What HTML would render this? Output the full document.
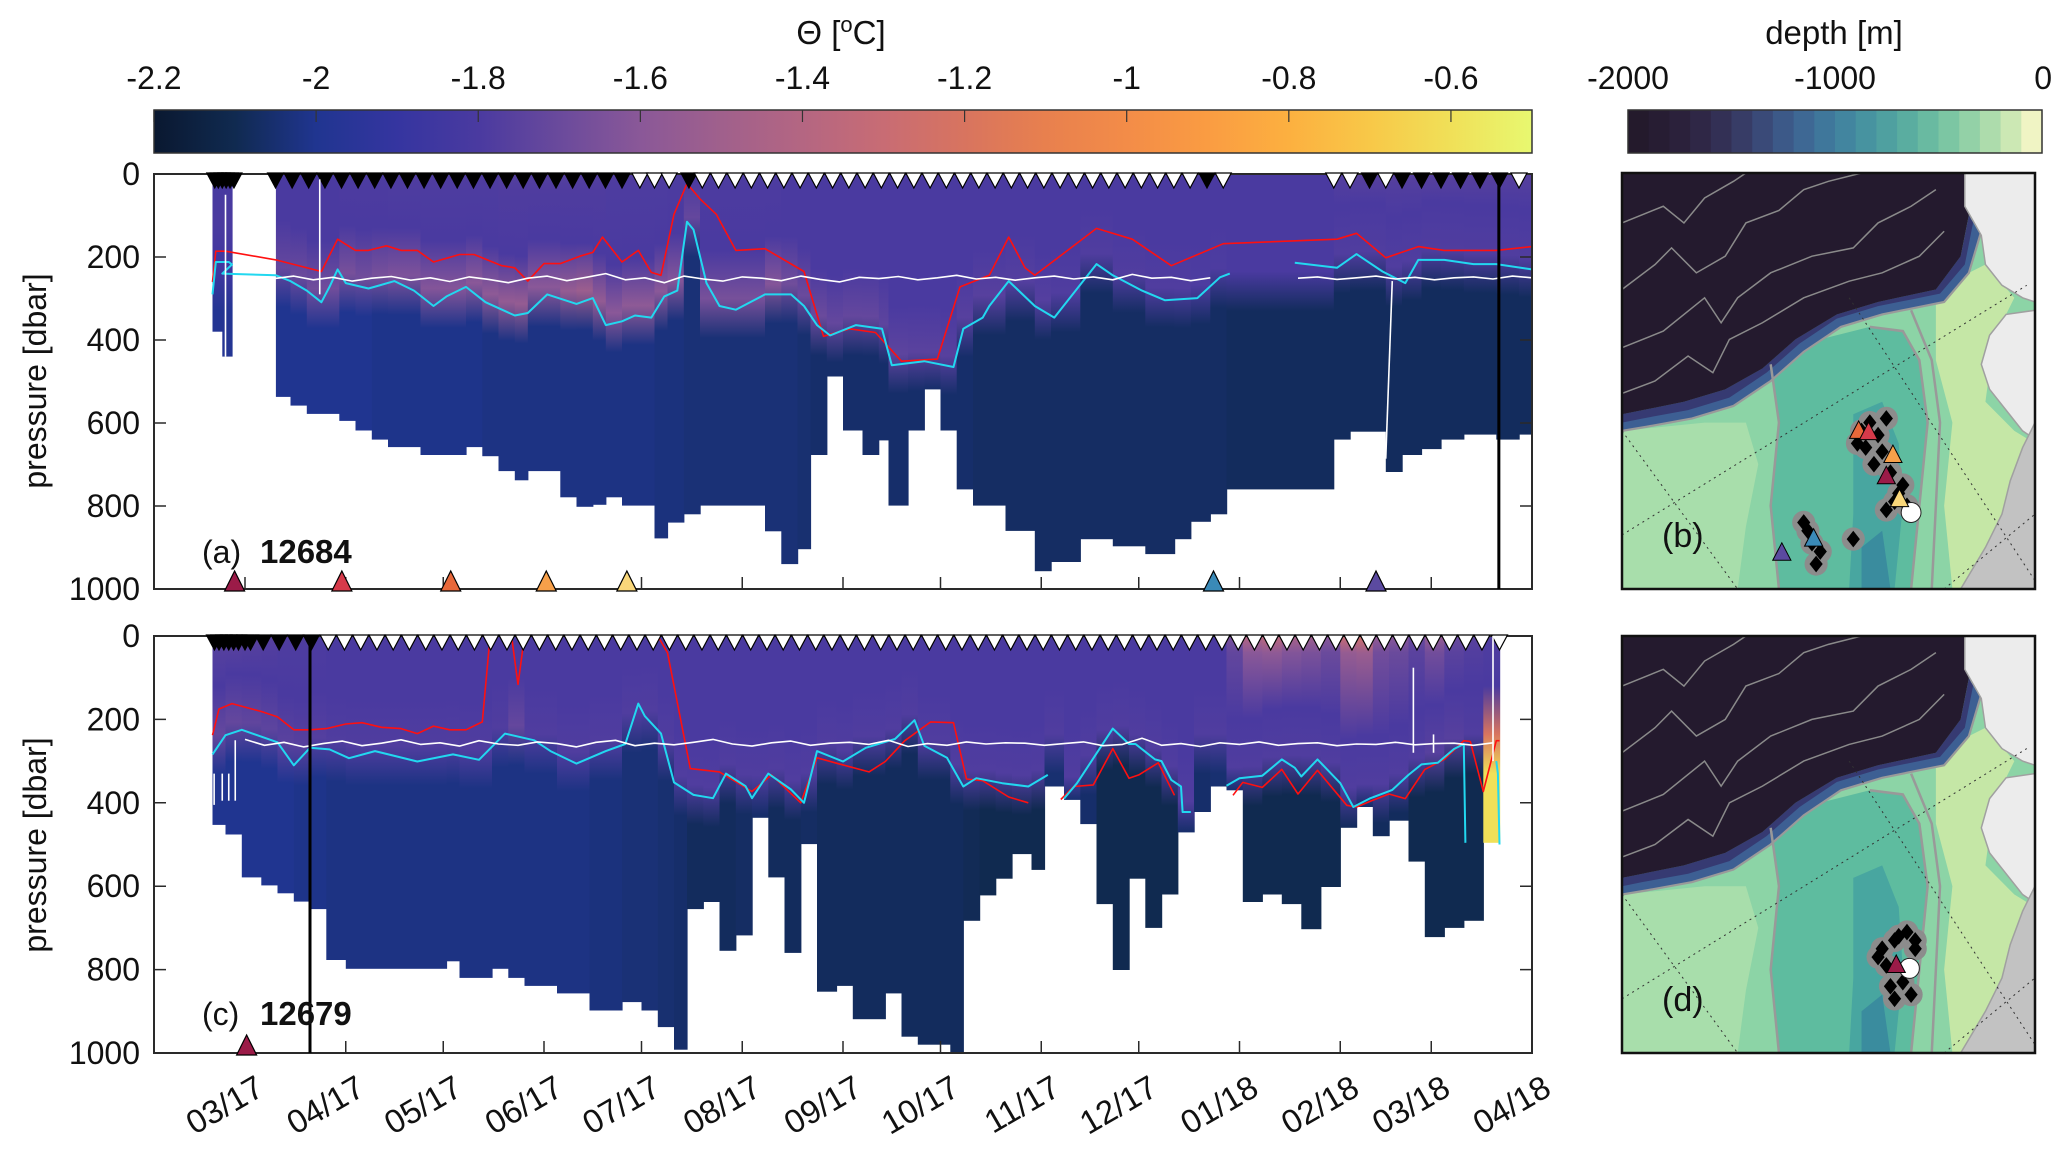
<!DOCTYPE html>
<html><head><meta charset="utf-8">
<style>
body{margin:0;background:#fff;}
svg{display:block;font-family:"Liberation Sans",Arial,sans-serif;}
</style></head>
<body>
<svg id="fig" xmlns="http://www.w3.org/2000/svg" width="2067" height="1151" viewBox="0 0 2067 1151">
<defs id="defs"></defs>
<rect x="0" y="0" width="2067" height="1151" fill="#fff"/>
<text x="841" y="44" font-size="33" text-anchor="middle" fill="#111">Θ [<tspan font-size="22" dy="-12">o</tspan><tspan dy="12">C]</tspan></text>
<text x="1834" y="44" font-size="33" text-anchor="middle" fill="#111">depth [m]</text>
<text transform="translate(46,381) rotate(-90)" font-size="32" text-anchor="middle" fill="#111">pressure [dbar]</text>
<text transform="translate(46,845) rotate(-90)" font-size="32" text-anchor="middle" fill="#111">pressure [dbar]</text>
<g id="cbar"></g>
<g id="dbar"></g>
<g id="panelA"></g>
<g id="panelC"></g>
<g id="maps"></g>
</svg>
<script>
// ---------- data ----------
const cmapV=[-2.2,-2.1,-2.0,-1.9,-1.8,-1.7,-1.6,-1.5,-1.4,-1.3,-1.2,-1.1,-1.0,-0.9,-0.8,-0.7,-0.6,-0.5];
const cmapC=['#0a1830','#102a50','#203590','#3535a0','#4a3aa0','#6a4a9c','#8a5898','#a0608c','#b46682','#c86c74','#d8745f','#e8804e','#f38c48','#fa9c42','#fcb040','#f8c848','#f0e058','#e8f870'];
const thetaTicks=[-2.2,-2,-1.8,-1.6,-1.4,-1.2,-1,-0.8,-0.6];
const thetaTickLabels=['-2.2','-2','-1.8','-1.6','-1.4','-1.2','-1','-0.8','-0.6'];
const depthColors=['#241a2c','#271d33','#2b213b','#2f2746','#333055','#373c66','#3a4a78','#3c5988','#3e6894','#3f779b','#42859f','#4793a0','#4fa0a0','#5aada0','#69baa1','#7cc6a3','#93d1a7','#addcac','#cce8b4','#f0f4c4'];
const depthTicks=[-2000,-1000,0];
const depthTickLabels=['-2000','-1000','0'];
const pTicks=[0,200,400,600,800,1000];
const pTickLabels=['0','200','400','600','800','1000'];
const monthDays=[28,59,89,120,150,181,212,242,273,303,334,365,393,424];
const monthLabels=['03/17','04/17','05/17','06/17','07/17','08/17','09/17','10/17','11/17','12/17','01/18','02/18','03/18','04/18'];

// panel (a) columns
const colStartA=[18,21,37.5,42,47,57,62,67,72,82,96,101,106,111,115,125,130,135,139,144,154,158,163,168,188,193,198,202,207,212,218,223,226,232,237,242,247,252,262,271,276,285,295,305,314,319,325,330,363,368,379,384,390,396,403,413,420];
const colEndA=[21,24,42,47,57,62,67,72,82,96,101,106,111,115,125,130,135,139,144,154,158,163,168,188,193,198,202,207,212,218,223,226,232,237,242,247,252,262,271,276,285,295,305,314,319,325,330,363,368,379,384,390,396,403,413,420,424];
const bottomA=[380,440,537,558,578,595,618,640,658,677,658,680,716,738,716,779,802,797,779,799,878,840,820,799,861,940,904,677,488,618,677,642,799,618,519,618,760,799,860,957,935,880,897,916,880,838,820,760,640,621,718,677,663,640,628,640,628];
const tUpA=[-1.82,-1.82,-1.8,-1.8,-1.8,-1.79,-1.79,-1.79,-1.78,-1.78,-1.78,-1.78,-1.77,-1.77,-1.77,-1.77,-1.77,-1.77,-1.78,-1.78,-1.78,-1.79,-1.79,-1.79,-1.79,-1.8,-1.8,-1.8,-1.8,-1.8,-1.8,-1.8,-1.8,-1.8,-1.8,-1.8,-1.8,-1.8,-1.8,-1.8,-1.8,-1.8,-1.8,-1.8,-1.8,-1.8,-1.8,-1.8,-1.77,-1.76,-1.76,-1.76,-1.76,-1.76,-1.76,-1.76,-1.76];
const tMidA=[-1.85,-1.85,-1.72,-1.7,-1.68,-1.66,-1.68,-1.66,-1.64,-1.62,-1.6,-1.58,-1.56,-1.55,-1.6,-1.55,-1.52,-1.56,-1.6,-1.58,-1.6,-1.62,-1.72,-1.66,-1.62,-1.68,-1.7,-1.7,-1.72,-1.72,-1.72,-1.74,-1.74,-1.75,-1.75,-1.76,-1.76,-1.76,-1.77,-1.77,-1.78,-1.78,-1.78,-1.78,-1.78,-1.79,-1.79,-1.8,-1.78,-1.78,-1.78,-1.78,-1.78,-1.78,-1.78,-1.78,-1.78];
const tDeepA=[-1.98,-1.98,-2.0,-2.0,-2.0,-2.0,-2.0,-2.01,-2.01,-2.01,-2.01,-2.02,-2.02,-2.02,-2.02,-2.02,-2.02,-2.02,-2.02,-2.02,-2.03,-2.03,-2.04,-2.04,-2.04,-2.04,-2.05,-2.06,-2.06,-2.06,-2.06,-2.06,-2.06,-2.06,-2.06,-2.06,-2.06,-2.07,-2.07,-2.07,-2.07,-2.07,-2.07,-2.07,-2.07,-2.07,-2.07,-2.08,-2.08,-2.08,-2.08,-2.08,-2.08,-2.08,-2.08,-2.08,-2.08];

// panel (c) columns
const colStartC=[18,22,27,33,38,43,48,53,59,90,94,104,109,114,124,134,144,150,155,160,164,169,174,179,184,189,194,199,204,210,215,225,230,235,245,249,254,259,264,270,274,280,285,290,295,300,305,310,315,320,325,330,335,341,347,353,359,365,370,375,380,386,391,397,403,409];
const colEndC=[22,27,33,38,43,48,53,59,90,94,104,109,114,124,134,144,150,155,160,164,169,174,179,184,189,194,199,204,210,215,225,230,235,245,249,254,259,264,270,274,280,285,290,295,300,305,310,315,320,325,330,335,341,347,353,359,365,370,375,380,386,391,397,403,409,414];
const bottomC=[453,476,579,598,617,637,655,777,798,780,820,798,820,839,857,898,878,898,938,992,655,638,755,718,436,579,760,499,853,839,919,857,961,980,999,683,622,582,523,561,361,393,451,643,801,582,700,620,471,422,361,370,638,620,643,703,602,460,410,480,443,541,722,700,683,496];
const tUpC=[-1.74,-1.74,-1.75,-1.76,-1.78,-1.78,-1.79,-1.8,-1.8,-1.8,-1.8,-1.8,-1.8,-1.8,-1.8,-1.8,-1.8,-1.8,-1.8,-1.8,-1.8,-1.8,-1.8,-1.8,-1.8,-1.8,-1.8,-1.8,-1.8,-1.8,-1.8,-1.8,-1.8,-1.8,-1.8,-1.8,-1.8,-1.8,-1.8,-1.8,-1.8,-1.8,-1.8,-1.8,-1.8,-1.8,-1.8,-1.8,-1.8,-1.8,-1.8,-1.65,-1.4,-1.35,-1.45,-1.5,-1.6,-1.3,-1.25,-1.55,-1.6,-1.7,-1.55,-1.7,-1.75,-1.78];
const tMidC=[-1.72,-1.72,-1.73,-1.74,-1.75,-1.76,-1.77,-1.78,-1.78,-1.78,-1.78,-1.78,-1.72,-1.78,-1.78,-1.78,-1.78,-1.78,-1.78,-1.78,-1.78,-1.78,-1.78,-1.78,-1.78,-1.78,-1.78,-1.78,-1.78,-1.78,-1.78,-1.78,-1.78,-1.78,-1.78,-1.78,-1.78,-1.78,-1.78,-1.78,-1.78,-1.78,-1.78,-1.78,-1.78,-1.78,-1.78,-1.78,-1.78,-1.78,-1.78,-1.78,-1.78,-1.78,-1.78,-1.78,-1.78,-1.78,-1.78,-1.78,-1.78,-1.78,-1.76,-1.76,-1.78,-1.2];
const tDeepC=[-2.0,-2.0,-2.0,-2.0,-2.0,-2.01,-2.01,-2.02,-2.02,-2.02,-2.02,-2.02,-2.02,-2.02,-2.02,-2.03,-2.04,-2.04,-2.05,-2.06,-2.08,-2.08,-2.08,-2.07,-2.06,-2.08,-2.08,-2.07,-2.08,-2.08,-2.08,-2.08,-2.08,-2.08,-2.08,-2.09,-2.1,-2.1,-2.1,-2.1,-2.05,-2.05,-2.06,-2.1,-2.1,-2.1,-2.1,-2.1,-2.06,-2.06,-2.05,-2.05,-2.1,-2.1,-2.1,-2.1,-2.1,-2.08,-2.06,-2.08,-2.08,-2.1,-2.1,-2.1,-2.1,-0.6];

// lines panel (a)
const redA_d=[18,19,22,37.5,51.5,56.5,62,66,71.5,76,81,86,94,98.5,107,111,115,120,125,131,135,138,144,149,153,156,160,164,168,173,179,188,200,206,214,222,230,241,248,257,263,268,271,290,301,313,329,364,370,379,389,397,413,424];
const redA_p=[260,186,186,207,235,157,184,184,173,184,184,212,194,194,221,226,258,216,216,198,189,152,212,184,237,244,97,23,60,97,184,180,235,391,373,382,451,446,272,244,152,226,244,131,157,221,168,157,143,202,175,184,184,175];
const cyanA_d=[18,19,23,24,21,37.5,42,47,51.5,54,56.5,59,66,74,80,86,90,96,102,111,115,121,130,135,139,144,148,153,157,161,164,166,170,174,179,188,196,200,204,208,216,224,227,237,246,249,255,257,263,271,277,290,295,304,311,321,328,331];
const cyanA_p=[290,212,212,218,240,244,258,281,309,272,230,263,276,258,281,318,295,272,309,341,335,290,313,299,364,355,341,346,295,281,115,134,263,318,327,290,290,318,364,389,364,373,461,451,465,373,346,318,258,318,346,217,244,281,304,299,249,240];
const cyanA2_d=[351,364,370,378,385,389,397,406,413,424];
const cyanA2_p=[214,226,193,235,263,207,207,217,217,230];
const whiteA_d=[37,43,49,55,61,67,73,79,85,91,97,103,109,115,121,127,133,139,145,151,157,163,169,175,181,187,193,199,205,211,217,223,229,235,241,247,253,259,265,271,277,283,289,295,301,307,313,319,325];
const whiteA_p=[252,246,255,249,258,251,247,256,250,259,248,254,262,251,246,257,249,240,255,250,262,246,253,258,248,251,257,246,254,260,249,252,247,255,250,244,253,249,256,250,246,253,248,255,242,251,249,257,250];
const whiteA2_d=[352,358,364,370,376,382,388,394,400,406,412,418,424];
const whiteA2_p=[251,248,254,250,246,253,249,255,250,248,253,246,250];
const whiteSegA_d1=[22,51,381], whiteSegA_p1=[50,13,258], whiteSegA_d2=[22,51,379], whiteSegA_p2=[440,290,686];

// lines panel (c)
const redC1_d=[18,20,24,33,38,43,48,53,59,64,70,76,81,86,91,96,101,103,103.5];
const redC1_p=[238,175,162,181,194,225,225,222,211,208,219,222,234,216,225,225,206,35,0];
const redC2_d=[110,112,114], redC2_p=[0,116,0];
const redC3_d=[155,158,165,174,184,190,199,204,210,220,225,231,239,246,250,255,263,269];
const redC3_p=[0,40,318,326,373,333,400,292,305,326,301,251,206,208,343,347,386,400];
const redC4_d=[279,283,289,295,300,303,309,314], redC4_p=[392,361,357,270,341,333,304,382];
const redC5_d=[332,335,341,347,352,358,367,370,375,380,385,391,397,403,405,409,413,414];
const redC5_p=[382,351,363,320,379,322,406,410,394,379,390,320,296,251,253,373,251,251];
const cyanC1_d=[18,22,27,38,43,48,54,60,68,81,92,100,108,117,122,130,139,145,149,151,156,160,166,172,176,182,184,189,196,200,204,212,219,228,234,237,244,249,253,261,269,275];
const cyanC1_p=[284,238,225,255,310,268,272,293,276,301,284,297,234,250,276,306,276,259,162,192,234,351,381,389,330,360,389,330,368,400,276,301,268,247,202,263,292,361,341,353,361,333];
const cyanC2_d=[280,284,295,300,302,308,310,313,316,316.5,319], cyanC2_p=[390,353,222,259,259,296,300,345,361,422,422];
const cyanC3_d=[330,334,341,347,351,353,358,365,369,374,381,386,390,395,400,403,403.5];
const cyanC3_p=[359,341,335,296,316,337,296,353,410,390,369,333,308,304,271,259,496];
const cyanC4_d=[413,413.5,414], cyanC4_p=[300,330,500];
const whiteC_d=[28,34,40,46,52,58,64,70,76,82,88,94,100,106,112,118,124,130,136,142,148,154,160,166,172,178,184,190,196,202,208,214,220,226,232,238,244,250,256,262,268,274,280,286,292,298,304,310,316,322,328,334,340,346,352,358,364,370,376,382,388,394,400,406,412];
const whiteC_p=[248,262,255,266,258,252,263,257,249,260,256,264,251,259,262,254,258,266,255,250,263,257,261,255,248,259,264,256,252,262,257,255,260,250,265,258,262,254,259,256,257,262,258,254,263,260,245,262,258,265,256,260,254,262,258,256,263,259,260,255,261,258,257,262,256];
const whiteSegC_d=[18.5,21,23,25,387.5,393.7,412], whiteSegC_p1=[330,330,330,250,76,236,0], whiteSegC_p2=[405,395,395,395,280,280,300];

// markers
const topMarkA_d=[18.7,19.8,21,22.2,23.4,24.6,37.4,42.5,47.6,52.6,57.7,62.8,67.9,72.9,78,83.1,88.2,93.3,98.3,103.4,108.5,113.6,118.6,123.7,128.8,133.9,138.9,144,149.5,154,158.5,164.6,168.7,173.7,178.8,183.8,188.8,193.8,198.8,203.8,208.8,213.8,218.8,223.8,228.8,233.8,238.8,243.8,248.8,253.8,258.8,263.8,268.8,273.8,278.8,283.8,288.8,293.8,298.8,303.8,308.8,313.8,318.8,324,329,363,368,374,379,384,390,396,402,408,414,420];
const topMarkA_f=[1,1,1,1,1,1,1,1,1,1,1,1,1,1,1,1,1,1,1,1,1,1,1,1,1,1,1,1,0,0,0,1,0,0,0,0,0,0,0,0,0,0,0,0,0,0,0,0,0,0,0,0,0,0,0,0,0,0,0,0,0,0,0,1,0,0,0,1,0,1,1,1,1,1,1,0];
const topMarkC_d=[18.6,20,21.5,23,24.5,26,28,29.7,33.6,38.5,43.6,48.4,53.6,58.6,63.6,68.6,73.6,78.6,83.6,88.6,93.6,98.6,103.6,108.6,113.6,118.6,123.6,128.6,133.6,138.6,143.6,148.6,153.6,158.6,163.6,168.6,173.6,178.6,183.6,188.6,193.6,198.6,203.6,208.6,213.6,218.6,223.6,228.6,233.6,238.6,243.6,248.6,253.6,258.6,263.6,268.6,273.6,278.6,283.6,288.6,293.6,298.6,303.6,308.6,313.6,318.6,323.6,328.6,333.6,338.6,343.6,348.6,353.6,358.6,363.6,368.6,373.6,378.6,383.6,388.6,393.6,398.6,403.6,408.6,414];
const botMarkA_d=[24.8,57.8,91.3,120.7,145.5,326,376];
const botMarkA_c=['#9b1b48','#d63a4a','#e8683a','#f7a04a','#f9d77a','#3a8ab8','#5b4aa0'];
const botMarkC_d=[28.5];
const botMarkC_c=['#9b1b48'];
const vlineA_d=413.8, vlineC_d=48;

// map markers
const mapB_du=[60,64,57,63,65,68,64,44,46,47,56,58,67,62,59,66,45,48,61,69];
const mapB_dv=[60,59,65,67,72,75,81,84,89,94,88,62,77,63,66,79,86,91,70,80];
const mapB_tu=[57.3,59.7,65.6,64,67.2,46.4,38.7];
const mapB_tv=[62,62.3,67.8,72.9,78.4,87.9,91.3];
const mapB_tc=['#e8683a','#d63a4a','#f7a04a','#9b1b48','#f9d77a','#3a8ab8','#5b4aa0'];
const mapD_du=[66,69,71,63,64,65,68,71,67,62,70,66];
const mapD_dv=[73,71,75,75,79,84,83,73,72,77,86,87];
const mapD_tu=[66.4], mapD_tv=[78.9], mapD_tc=['#9b1b48'];
const mapB_circ=[70,81.6], mapD_circ=[69.6,79.7];

// ---------- helpers / axes ----------
const NS='http://www.w3.org/2000/svg';
function mk(tag,attrs,parent){const e=document.createElementNS(NS,tag);for(const k in attrs)e.setAttribute(k,attrs[k]);parent.appendChild(e);return e;}
const X0=154,X1=1532,D0=0,D1=424;
function xDay(d){return X0+(d-D0)/(D1-D0)*(X1-X0);}
const PA={top:174,bot:589}, PC={top:636,bot:1053};
function yP(P,p){return P.top+p/1000*(P.bot-P.top);}
function hex2rgb(h){return [parseInt(h.substr(1,2),16),parseInt(h.substr(3,2),16),parseInt(h.substr(5,2),16)];}
function tcol(v){
  if(v<=cmapV[0])return cmapC[0];
  if(v>=cmapV[cmapV.length-1])return cmapC[cmapC.length-1];
  for(let i=0;i<cmapV.length-1;i++){if(v>=cmapV[i]&&v<=cmapV[i+1]){const f=(v-cmapV[i])/(cmapV[i+1]-cmapV[i]);const a=hex2rgb(cmapC[i]),b=hex2rgb(cmapC[i+1]);return 'rgb('+a.map((x,j)=>Math.round(x+(b[j]-x)*f)).join(',')+')';}}
  return cmapC[0];
}
function interp(ds,ps,d){for(let i=0;i<ds.length-1;i++){const a=ds[i],b=ds[i+1];if((d>=a&&d<=b)||(d<=a&&d>=b)){if(a===b)return ps[i];return ps[i]+(ps[i+1]-ps[i])*(d-a)/(b-a);}}return null;}
const defs=document.getElementById('defs');

// ---------- theta colorbar ----------
const cb=document.getElementById('cbar');
const cbX0=154,cbX1=1532,cbY0=110,cbY1=153;
function xTheta(v){return cbX0+(v+2.2)/1.7*(cbX1-cbX0);}
const lg=mk('linearGradient',{id:'thetaGrad',x1:'0',x2:'1',y1:'0',y2:'0'},defs);
cmapV.forEach((v,i)=>{mk('stop',{offset:((v+2.2)/1.7).toFixed(4),'stop-color':cmapC[i]},lg);});
let el=mk('rect',{x:cbX0,y:cbY0,width:cbX1-cbX0,height:cbY1-cbY0,fill:'url(#thetaGrad)',stroke:'#333','stroke-width':1.5},cb);


thetaTicks.forEach((v,i)=>{
  const x=xTheta(v);
  let t=mk('line',{x1:x,x2:x,y1:cbY0,y2:cbY0+12,stroke:'#333','stroke-width':1.2},cb);
  
  
  let l=mk('text',{x:x,y:89,'font-size':32,'text-anchor':'middle',fill:'#111'},cb);
  l.textContent=thetaTickLabels[i];
  
  
});

// ---------- depth colorbar ----------
const db=document.getElementById('dbar');
const dbX0=1628,dbX1=2042;
const bw=(dbX1-dbX0)/depthColors.length;
depthColors.forEach((c,i)=>{
  let r=mk('rect',{x:dbX0+i*bw,y:cbY0,width:bw+0.6,height:cbY1-cbY0,fill:c},db);
  
  
});
el=mk('rect',{x:dbX0,y:cbY0,width:dbX1-dbX0,height:cbY1-cbY0,fill:'none',stroke:'#333','stroke-width':1.5},db);


depthTicks.forEach((v,i)=>{
  const x=dbX0+(v+2000)/2000*(dbX1-dbX0);
  let l=mk('text',{x:x,y:89,'font-size':32,'text-anchor':i===2?'end':'middle',fill:'#111'},db);
  if(i===2)l.setAttribute('x',x+10);
  l.textContent=depthTickLabels[i];
  
  
});

// ---------- panels ----------
function drawLine(g,P,ds,ps,color,w,name){
  const pts=ds.map((d,i)=>xDay(d).toFixed(1)+','+yP(P,ps[i]).toFixed(1)).join(' ');
  const e=mk('polyline',{points:pts,fill:'none',stroke:color,'stroke-width':w,'stroke-linejoin':'round'},g);
  
  
}
function drawPanel(g,P,key,cs,ce,cb_,tU,tM,tD,ifaces,lines,topD,topF,botD,botC,vday,label,num,showX){
  cs.forEach((s,i)=>{
    const e=ce[i],bot=cb_[i];
    const mid=(s+e)/2;
    let ifc=null;
    for(const f of ifaces){const v=interp(f[0],f[1],mid);if(v!==null){ifc=v;break;}}
    if(ifc===null)ifc=260;
    ifc=Math.max(120,Math.min(ifc,bot-30));
    const gid='g'+key+i;
    const gr=mk('linearGradient',{id:gid,gradientUnits:'userSpaceOnUse',x1:0,x2:0,y1:yP(P,0),y2:yP(P,bot)},defs);
    const st=[[0,tU[i]],[Math.min(40,ifc-120),(tU[i]+tM[i]*0.0-1.8*1)/2+0.0*tU[i]],[ifc-140,-1.8],[ifc-25,tM[i]],[Math.min(ifc+70,bot),tD[i]],[bot,tD[i]]];
    let last=0;
    st.forEach(s2=>{let o=Math.max(last,Math.min(1,s2[0]/bot));last=o;mk('stop',{offset:o.toFixed(4),'stop-color':tcol(s2[1])},gr);});
    const r=mk('rect',{x:xDay(s).toFixed(1),y:P.top,width:(xDay(e)-xDay(s)+0.6).toFixed(1),height:(yP(P,bot)-P.top).toFixed(1),fill:'url(#'+gid+')'},g);
    
    
  });
  lines.forEach(L=>drawLine(g,P,L[0],L[1],L[2],L[3],L[4]));
  let fr=mk('rect',{x:X0,y:P.top,width:X1-X0,height:P.bot-P.top,fill:'none',stroke:'#2a2a2a','stroke-width':2},g);
  
  
  pTicks.forEach((p,i)=>{
    const y=yP(P,p);
    let t=mk('path',{d:'M'+X0+','+y+'h12M'+X1+','+y+'h-12',stroke:'#2a2a2a','stroke-width':1.5},g);
    
    
    let l=mk('text',{x:140,y:y+11,'font-size':32,'text-anchor':'end',fill:'#111'},g);
    l.textContent=pTickLabels[i];
    
    
  });
  monthDays.forEach((d,i)=>{
    const x=xDay(d);
    let t=mk('line',{x1:x,x2:x,y1:P.bot,y2:P.bot-12,stroke:'#2a2a2a','stroke-width':1.5},g);
    
    
    if(showX){
      let l=mk('text',{transform:'translate('+(x+21).toFixed(1)+',1094) rotate(-30)','font-size':33,'text-anchor':'end',fill:'#111'},g);
      l.textContent=monthLabels[i];
      
      
    }
  });
  let vl=mk('line',{x1:xDay(vday),x2:xDay(vday),y1:P.top,y2:P.bot,stroke:'#000','stroke-width':3},g);
  
  
  topD.forEach((d,i)=>{
    const x=xDay(d),y=P.top;
    let m=mk('polygon',{points:(x-8)+','+(y-1)+' '+(x+8)+','+(y-1)+' '+x+','+(y+14),fill:topF[i]?'#000':'#fff',stroke:'#000','stroke-width':1.2},g);
    
    
  });
  botD.forEach((d,i)=>{
    const x=xDay(d),y=P.bot;
    let m=mk('polygon',{points:(x-10)+','+(y+2)+' '+(x+10)+','+(y+2)+' '+x+','+(y-18),fill:botC[i],stroke:'#000','stroke-width':1.2},g);
    
    
  });
  let t1=mk('text',{x:202,y:(P.top+389).toFixed(0),'font-size':32,fill:'#111'},g);
  t1.textContent=label;
  
  
  let t2=mk('text',{x:260,y:(P.top+389).toFixed(0),'font-size':33,'font-weight':'bold',fill:'#111'},g);
  t2.textContent=num;
  
  
}
const gA=document.getElementById('panelA');
const linesA=[
  [redA_d,redA_p,'#ff1010',1.6,'mixed-layer-red-line'],
  [cyanA_d,cyanA_p,'#22d8f0',2,'cyan-isotherm-line'],
  [cyanA2_d,cyanA2_p,'#22d8f0',2,'cyan-isotherm-line-2'],
  [whiteA_d,whiteA_p,'#ffffff',1.6,'white-pressure-line'],
  [whiteA2_d,whiteA2_p,'#ffffff',1.6,'white-pressure-line-2']
];
drawPanel(gA,PA,'a',colStartA,colEndA,bottomA,tUpA,tMidA,tDeepA,[[cyanA_d.slice(5),cyanA_p.slice(5)],[cyanA2_d,cyanA2_p]],linesA,topMarkA_d,topMarkA_f,botMarkA_d,botMarkA_c,vlineA_d,'(a)','12684',false);
whiteSegA_d1.forEach((d,i)=>{
  let s=mk('line',{x1:xDay(d),y1:yP(PA,whiteSegA_p1[i]),x2:xDay(whiteSegA_d2[i]),y2:yP(PA,whiteSegA_p2[i]),stroke:'#fff','stroke-width':1.6},gA);
  
  
});
const gC=document.getElementById('panelC');
const topMarkC_f=topMarkC_d.map((d,i)=>i<12?1:0);
const linesC=[
  [redC1_d,redC1_p,'#ff1010',1.6,'mixed-layer-red-line'],
  [redC2_d,redC2_p,'#ff1010',1.6,'mixed-layer-red-line-2'],
  [redC3_d,redC3_p,'#ff1010',1.6,'mixed-layer-red-line-3'],
  [redC4_d,redC4_p,'#ff1010',1.6,'mixed-layer-red-line-4'],
  [redC5_d,redC5_p,'#ff1010',1.6,'mixed-layer-red-line-5'],
  [cyanC1_d,cyanC1_p,'#22d8f0',2,'cyan-isotherm-line'],
  [cyanC2_d,cyanC2_p,'#22d8f0',2,'cyan-isotherm-line-2'],
  [cyanC3_d,cyanC3_p,'#22d8f0',2,'cyan-isotherm-line-3'],
  [cyanC4_d,cyanC4_p,'#22d8f0',2,'cyan-isotherm-line-4'],
  [whiteC_d,whiteC_p,'#ffffff',1.6,'white-pressure-line']
];
drawPanel(gC,PC,'c',colStartC,colEndC,bottomC,tUpC,tMidC,tDeepC,[[cyanC1_d,cyanC1_p],[cyanC2_d,cyanC2_p],[cyanC3_d,cyanC3_p]],linesC,topMarkC_d,topMarkC_f,botMarkC_d,botMarkC_c,vlineC_d,'(c)','12679',true);
whiteSegC_d.forEach((d,i)=>{
  let s=mk('line',{x1:xDay(d),y1:yP(PC,whiteSegC_p1[i]),x2:xDay(d),y2:yP(PC,whiteSegC_p2[i]),stroke:'#fff','stroke-width':1.6},gC);
  
  
});

// ---------- maps ----------
const mapsG=document.getElementById('maps');
const baseMap=
 '<rect x="0" y="0" width="100" height="100" fill="#8cd4a6"/>'+
 '<path d="M0,62 L20,60 L30,60 L33,70 L30,85 L28,100 L0,100 Z" fill="#a8deab"/>'+
 '<path d="M36,46 L48,40 L60,37 L68,38 L72,45 L74,60 L72,80 L70,100 L38,100 L36,80 L38,60 Z" fill="#5ebc9f"/>'+
 '<path d="M56,58 L63,55 L67,65 L68,80 L66,100 L55,100 L56,82 Z" fill="#48a6a0"/>'+
 '<path d="M58,90 L63,86 L65,100 L58,100 Z" fill="#3a8c9e"/>'+
 '<path d="M76,28 L88,22 L95,30 L90,40 L88,55 L95,62 L100,65 L100,100 L80,100 L78,80 L80,60 L76,45 Z" fill="#c5e7a6"/>'+
 '<path d="M0,62 L6,61 L17,59 L27,56 L36,50 L44,43 L53,37 L63,34 L78,31 L84,24 L87,14 L86,10 L84,12 L82,20 L76,28 L62,31 L52,34 L42,40 L34,47 L25,52 L15,55 L5,57 L0,58 Z" fill="#3d5f93"/>'+
 '<path d="M0,60 L5,59 L16,57 L26,54 L35,48 L43,41 L52,35 L62,32 L77,29 L83,22 L85,12 L84,10 L82,20 L76,28 L62,31 L52,34 L42,40 L34,47 L25,52 L15,55 L5,57 L0,58 Z" fill="#363a72"/>'+
 '<path d="M0,0 L84,0 L84,10 L82,20 L76,28 L62,31 L52,34 L42,40 L34,47 L25,52 L15,55 L5,57 L0,58 Z" fill="#241a2e"/>'+
 '<path d="M0,62 L6,61 L17,59 L27,56 L36,50 L44,43 L53,37 L63,34 L78,31 L84,24 L87,14" fill="none" stroke="#9a9a9a" stroke-width="2.2" vector-effect="non-scaling-stroke"/>'+
 '<path d="M83,0 L100,0 L100,31 L97,30 L92,27 L88,22 L87,15 L83,8 Z" fill="#ececec" stroke="#a0a0a0" stroke-width="1.5" vector-effect="non-scaling-stroke"/>'+
 '<path d="M100,33 L93,34 L89,39 L87,46 L89,52 L93,57 L97,62 L100,64 Z" fill="#ececec" stroke="#a0a0a0" stroke-width="1.5" vector-effect="non-scaling-stroke"/>'+
 '<path d="M100,60 L97,66 L94,74 L92,82 L88,90 L82,100 L100,100 Z" fill="#c2c2c2" stroke="#a0a0a0" stroke-width="1.5" vector-effect="non-scaling-stroke"/>'+
 '<g fill="none" stroke="#8a8a8a" stroke-width="1.5">'+
 '<path d="M0,12 L10,8 L15,12 L20,6 L27,2 L30,0" vector-effect="non-scaling-stroke"/>'+
 '<path d="M0,28 L8,22 L12,18 L18,24 L25,20 L30,12 L38,9 L44,4 L50,2 L58,0" vector-effect="non-scaling-stroke"/>'+
 '<path d="M0,42 L10,38 L20,30 L24,36 L28,30 L36,24 L46,20 L56,18 L62,12 L70,8 L76,4" vector-effect="non-scaling-stroke"/>'+
 '<path d="M0,53 L8,50 L16,44 L22,48 L26,40 L34,36 L44,30 L55,26 L63,24 L72,20 L78,14" vector-effect="non-scaling-stroke"/></g>'+
 '<g fill="none" stroke="#999" stroke-width="2.5">'+
 '<path d="M36,46 L38,60 L36,80 L38,100" vector-effect="non-scaling-stroke"/>'+
 '<path d="M60,37 L68,38 L72,45 L74,60 L72,80 L70,100" vector-effect="non-scaling-stroke"/>'+
 '<path d="M70,33 L75,45 L77,60 L76,80 L75,100" vector-effect="non-scaling-stroke"/></g>'+
 '<g fill="none" stroke="#333" stroke-width="1" stroke-dasharray="2,4">'+
 '<path d="M0,87 L98,27" vector-effect="non-scaling-stroke"/><path d="M0,62 L28,100" vector-effect="non-scaling-stroke"/>'+
 '<path d="M55,30 L100,98" vector-effect="non-scaling-stroke"/><path d="M78,100 L100,82" vector-effect="non-scaling-stroke"/></g>';
function drawMap(x0,y0,w,h,du,dv,tu,tv,tc,circ,label,name){
  const s=mk('svg',{x:x0,y:y0,width:w,height:h,viewBox:'0 0 100 100',preserveAspectRatio:'none'},mapsG);
  
  
  s.innerHTML=baseMap;
  du.forEach((u,i)=>{
    let c=mk('circle',{cx:u,cy:dv[i],r:2.8,fill:'#8c8c8c'},s);
    
    
  });
  du.forEach((u,i)=>{
    const v=dv[i];
    let d=mk('polygon',{points:u+','+(v-2)+' '+(u+1.6)+','+v+' '+u+','+(v+2)+' '+(u-1.6)+','+v,fill:'#000'},s);
    
    
  });
  let c=mk('circle',{cx:circ[0],cy:circ[1],r:2.4,fill:'#fff',stroke:'#222','stroke-width':1,'vector-effect':'non-scaling-stroke'},s);
  
  
  tu.forEach((u,i)=>{
    const v=tv[i];
    let t=mk('polygon',{points:(u-2.2)+','+(v+1.8)+' '+(u+2.2)+','+(v+1.8)+' '+u+','+(v-2.4),fill:tc[i],stroke:'#000','stroke-width':1,'vector-effect':'non-scaling-stroke'},s);
    
    
  });
  let f=mk('rect',{x:x0,y:y0,width:w,height:h,fill:'none',stroke:'#111','stroke-width':2.5},mapsG);
  
  
  let l=mk('text',{x:x0+40,y:y0+h*0.87+12,'font-size':34,fill:'#111'},mapsG);
  l.textContent=label;
  
  
}
drawMap(1622,173,413,416,mapB_du,mapB_dv,mapB_tu,mapB_tv,mapB_tc,mapB_circ,'(b)','map-b');
drawMap(1622,636,413,417,mapD_du,mapD_dv,mapD_tu,mapD_tv,mapD_tc,mapD_circ,'(d)','map-d');
</script>
</body></html>
